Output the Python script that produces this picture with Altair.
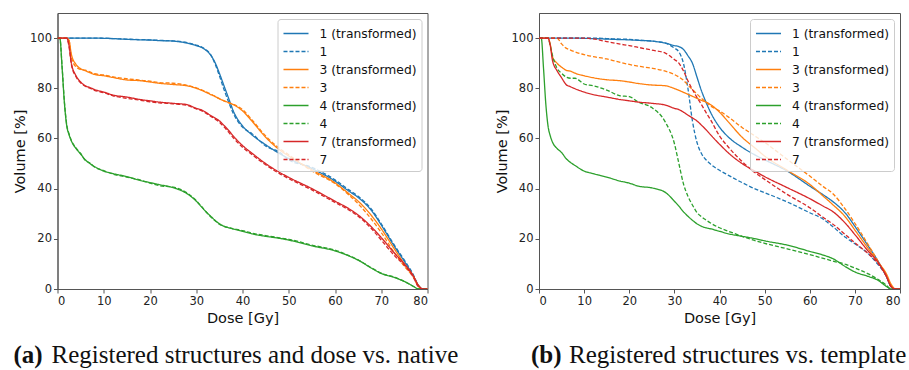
import altair as alt
import pandas as pd

# Dose grid (Gy) shared by every DVH curve
DOSE = [0, 0.5, 1, 1.5, 2, 2.5, 3, 4, 5, 6, 7, 8, 10, 12, 15, 18, 20, 22, 25, 28,
        30, 31, 32, 33, 34, 35, 36, 37, 38, 40, 42, 45, 48, 50, 55, 60, 63, 65, 68,
        70, 73, 75, 77, 78, 79, 80]

SERIES = ["1 (transformed)", "1", "3 (transformed)", "3",
          "4 (transformed)", "4", "7 (transformed)", "7"]
COLORS = ["#1f77b4", "#1f77b4", "#ff7f0e", "#ff7f0e",
          "#2ca02c", "#2ca02c", "#d62728", "#d62728"]
DASHES = [[1, 0], [4, 2], [1, 0], [4, 2], [1, 0], [4, 2], [1, 0], [4, 2]]

# Panel (a): registered structures and dose vs. native
A_1T = [100, 100, 100, 100, 100, 100, 100, 100, 100, 100, 100, 100, 99.9, 99.8, 99.5, 99.3, 99.2, 99.0, 98.8, 98.0,
        97.0, 96.4, 95.3, 93.5, 90.5, 86.0, 81.0, 76.0, 71.0, 65.0, 61.5, 57.5, 54.0, 52.0, 48.0, 43.0, 39.0, 36.5, 31.0,
        25.5, 16.5, 11.0, 5.0, 1.5, 0, 0]
A_1 = [100, 100, 100, 100, 100, 100, 100, 100, 100, 100, 100, 100, 100, 99.8, 99.6, 99.4, 99.3, 99.1, 98.9, 98.2,
       97.2, 96.6, 95.5, 93.8, 90.0, 85.0, 79.5, 74.5, 70.0, 64.5, 62.0, 57.0, 54.5, 51.5, 48.5, 43.5, 39.5, 37.0, 31.5,
       26.0, 17.0, 11.5, 5.5, 1.5, 0, 0]
A_3T = [100, 100, 100, 100, 100, 99.0, 93.5, 89.5, 87.8, 87.0, 86.2, 85.5, 85.0, 84.3, 83.3, 83.0, 82.5, 82.0, 81.5, 81.0,
        80.0, 79.3, 78.5, 77.6, 76.8, 75.8, 75.0, 74.3, 73.5, 71.0, 67.0, 60.5, 55.5, 53.0, 47.5, 42.3, 38.0, 35.0, 29.0,
        24.0, 15.5, 10.0, 5.0, 1.5, 0, 0]
A_3 = [100, 100, 100, 100, 100, 99.0, 92.5, 88.5, 87.5, 87.2, 86.5, 85.8, 85.3, 84.5, 83.8, 83.2, 82.8, 82.3, 82.0, 81.2,
       80.2, 79.5, 78.7, 77.8, 76.9, 75.9, 75.0, 74.2, 73.6, 71.5, 67.5, 61.0, 56.0, 53.5, 47.0, 42.0, 37.5, 34.0, 27.5,
       22.5, 14.0, 9.0, 4.5, 1.0, 0, 0]
A_4T = [100, 100, 88.0, 74.0, 65.0, 61.5, 59.0, 56.0, 53.8, 51.5, 50.0, 48.8, 47.0, 46.0, 44.8, 43.2, 42.4, 41.6, 40.4, 38.0,
        35.0, 33.0, 31.0, 29.2, 27.5, 26.0, 25.0, 24.4, 23.9, 23.0, 22.0, 21.0, 20.2, 19.5, 17.2, 15.2, 13.2, 11.5, 8.2,
        6.2, 4.5, 3.0, 1.0, 0, 0, 0]
A_4 = [100, 100, 88.5, 74.5, 65.5, 61.8, 59.2, 56.2, 54.0, 51.3, 50.2, 48.6, 47.2, 45.8, 44.6, 43.4, 42.2, 41.2, 40.6, 38.3,
       35.2, 33.2, 31.0, 29.0, 27.3, 25.8, 25.0, 24.5, 24.0, 23.3, 22.3, 21.3, 20.4, 19.8, 17.5, 15.5, 13.3, 11.6, 8.3,
       6.3, 4.6, 3.0, 1.0, 0, 0, 0]
A_7T = [100, 100, 100, 100, 100, 97.0, 90.0, 85.0, 82.5, 81.0, 80.3, 79.5, 78.5, 77.3, 76.5, 75.5, 75.0, 74.5, 74.0, 73.5,
        72.0, 71.5, 70.5, 69.3, 68.2, 67.0, 65.2, 63.2, 61.0, 57.2, 54.2, 50.0, 46.5, 44.5, 40.0, 35.0, 32.0, 29.5, 24.5,
        20.5, 14.0, 10.0, 5.0, 1.5, 0, 0]
A_7 = [100, 100, 100, 100, 100, 96.5, 89.5, 84.6, 82.2, 80.8, 80.0, 79.2, 78.2, 77.0, 76.0, 75.2, 74.6, 74.2, 73.8, 73.2,
       71.8, 71.2, 70.2, 69.0, 67.8, 66.5, 64.6, 62.5, 60.3, 56.5, 53.6, 49.5, 46.0, 44.0, 39.5, 34.5, 31.5, 29.0, 23.8,
       19.5, 13.0, 9.5, 4.5, 1.0, 0, 0]

# Panel (b): registered structures vs. template
B_1T = [100, 100, 100, 100, 100, 100, 100, 100, 100, 100, 100, 100, 99.9, 99.8, 99.6, 99.4, 99.3, 99.1, 98.8, 98.0,
        97.0, 96.6, 95.5, 93.0, 90.0, 84.5, 79.0, 74.5, 70.5, 64.5, 60.5, 56.5, 53.3, 51.5, 47.0, 41.0, 37.5, 35.0, 30.0,
        25.0, 17.0, 11.5, 5.0, 1.0, 0, 0]
B_1 = [100, 100, 100, 100, 100, 100, 100, 100, 100, 100, 100, 100, 100, 100, 99.8, 99.6, 99.5, 99.2, 98.8, 98.0,
       96.0, 94.5, 90.0, 80.0, 67.0, 58.5, 54.0, 51.5, 49.8, 47.3, 45.3, 42.4, 39.8, 38.4, 34.7, 30.4, 27.8, 25.0, 20.5,
       18.0, 14.0, 10.0, 5.0, 1.0, 0, 0]
B_3T = [100, 100, 100, 100, 100, 97.5, 92.5, 90.0, 88.4, 87.2, 86.8, 86.0, 85.0, 84.2, 83.4, 83.0, 82.5, 81.9, 81.3, 81.0,
        79.9, 79.2, 78.4, 77.6, 76.8, 76.0, 75.2, 74.5, 73.5, 70.5, 66.5, 60.5, 56.0, 53.0, 47.3, 41.7, 37.0, 33.8, 28.5,
        23.5, 16.0, 11.0, 6.0, 2.0, 0, 0]
B_3 = [100, 100, 100, 100, 100, 100, 100, 100, 97.7, 96.0, 95.2, 94.5, 93.4, 92.6, 91.7, 90.3, 89.5, 88.8, 88.0, 86.8,
       85.5, 84.5, 83.2, 81.3, 79.5, 77.7, 76.0, 74.5, 73.0, 71.0, 68.5, 64.4, 60.8, 58.4, 51.7, 45.0, 40.8, 38.2, 31.5,
       26.2, 17.5, 11.5, 5.0, 1.5, 0, 0]
B_4T = [100, 100, 88.0, 74.0, 65.0, 61.0, 58.5, 56.0, 54.4, 52.0, 50.4, 49.2, 47.0, 46.0, 44.6, 43.0, 42.2, 41.0, 40.3, 38.5,
        35.0, 33.0, 30.8, 29.0, 27.4, 26.0, 25.0, 24.4, 24.0, 23.0, 22.0, 21.0, 20.0, 19.2, 17.5, 15.0, 13.5, 12.2, 8.8,
        6.8, 5.0, 3.6, 1.0, 0, 0, 0]
B_4 = [100, 100, 100, 100, 100, 97.0, 93.0, 88.0, 86.0, 84.5, 84.0, 84.0, 81.7, 81.0, 79.3, 77.0, 76.7, 74.5, 72.3, 66.5,
       58.0, 50.0, 42.0, 37.0, 33.5, 30.5, 28.8, 27.5, 26.3, 24.4, 23.0, 21.0, 19.2, 18.2, 16.0, 13.7, 12.2, 11.2, 9.8,
       8.4, 6.0, 4.0, 1.5, 0, 0, 0]
B_7T = [100, 100, 100, 100, 100, 97.0, 91.0, 87.0, 84.2, 81.5, 80.6, 79.8, 78.5, 77.5, 76.5, 75.5, 75.0, 74.5, 74.0, 73.3,
        72.0, 71.5, 70.5, 69.3, 68.2, 67.0, 65.3, 63.5, 61.5, 57.7, 54.2, 50.0, 46.8, 44.8, 40.4, 36.0, 33.0, 31.0, 26.0,
        21.7, 15.0, 11.0, 5.0, 1.0, 0, 0]
B_7 = [100, 100, 100, 100, 100, 100, 100, 100, 100, 100, 100, 100, 100, 99.7, 98.6, 97.6, 97.0, 96.3, 95.2, 94.0,
       91.5, 90.0, 87.0, 83.0, 79.5, 76.4, 73.5, 70.4, 67.5, 61.0, 56.5, 50.8, 46.2, 43.7, 37.7, 32.4, 28.5, 26.0, 21.5,
       18.4, 14.0, 10.5, 5.0, 1.0, 0, 0]

PANEL_A = [A_1T, A_1, A_3T, A_3, A_4T, A_4, A_7T, A_7]
PANEL_B = [B_1T, B_1, B_3T, B_3, B_4T, B_4, B_7T, B_7]

CAPTION_A = ("(a)", "Registered structures and dose vs. native")
CAPTION_B = ("(b)", "Registered structures vs. template")


def long_table(curves):
    rows = []
    for name, vols in zip(SERIES, curves):
        for d, v in zip(DOSE, vols):
            rows.append({"series": name, "dose": d, "volume": v})
    return pd.DataFrame(rows)


def panel(curves, caption, width, rest_dx, bold_dx):
    lines = alt.Chart(long_table(curves)).mark_line(
        strokeWidth=1.3, interpolate="monotone", clip=True
    ).encode(
        x=alt.X("dose:Q", title="Dose [Gy]",
                scale=alt.Scale(domain=[0, 80], nice=False, zero=False),
                axis=alt.Axis(values=list(range(0, 81, 10)), format="d")),
        y=alt.Y("volume:Q", title="Volume [%]",
                scale=alt.Scale(domain=[0, 110], nice=False),
                axis=alt.Axis(values=list(range(0, 101, 20)), format="d",
                              titlePadding=2)),
        color=alt.Color("series:N", sort=SERIES,
                        scale=alt.Scale(domain=SERIES, range=COLORS),
                        legend=alt.Legend(title=None, orient="top-right")),
        strokeDash=alt.StrokeDash("series:N", sort=SERIES,
                                  scale=alt.Scale(domain=SERIES, range=DASHES),
                                  legend=alt.Legend(title=None, orient="top-right")),
    )
    cap_df = pd.DataFrame({"bold": [caption[0]], "rest": [caption[1]]})
    bold = alt.Chart(cap_df).mark_text(
        font="Liberation Serif", fontSize=25, fontWeight="bold",
        align="left", baseline="alphabetic", color="#111"
    ).encode(text="bold:N", x=alt.value(bold_dx), y=alt.value(350))
    rest = alt.Chart(cap_df).mark_text(
        font="Liberation Serif", fontSize=25,
        align="left", baseline="alphabetic", color="#111"
    ).encode(text="rest:N", x=alt.value(rest_dx), y=alt.value(350))
    return alt.layer(lines, bold, rest).properties(width=width, height=276)


left = panel(PANEL_A, CAPTION_A, 370, -6, -44)
right = panel(PANEL_B, CAPTION_B, 361, 30, -8)

chart = alt.hconcat(left, right, spacing=33.5).resolve_legend(
    color="independent", strokeDash="independent"
).properties(
    padding={"left": 11.5, "top": 12, "right": 0, "bottom": 0}
).configure_view(
    stroke="#555", strokeWidth=1
).configure_axis(
    grid=False, domainColor="#555", tickColor="#555", tickSize=4,
    labelFont="DejaVu Sans", labelFontSize=11.5, labelColor="#222", labelPadding=2,
    titleFont="DejaVu Sans", titleFontSize=14.5, titleFontWeight="normal",
    titleColor="#111", titlePadding=5
).configure_legend(
    fillColor="rgba(255,255,255,0.8)", strokeColor="#cccccc", cornerRadius=3,
    padding=5, offset=6, labelFont="DejaVu Sans", labelFontSize=12.3,
    labelColor="#111", labelOffset=14, rowPadding=2,
    symbolType="M-1.5,0L1.5,0", symbolSize=278, symbolOffset=4,
    symbolStrokeWidth=1.5
).configure_concat(spacing=33.5)

chart.save("out.html", embed_options={"renderer": "svg", "actions": False})
